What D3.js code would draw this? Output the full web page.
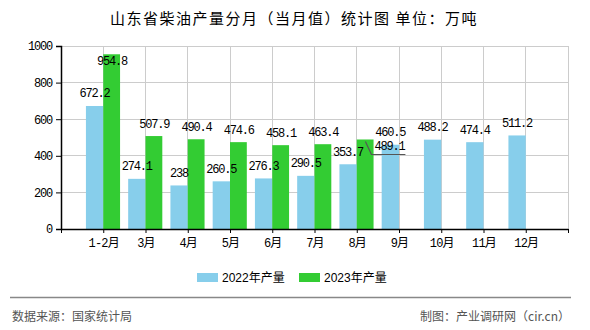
<!DOCTYPE html>
<html>
<head>
<meta charset="utf-8">
<script src="https://cdn.jsdelivr.net/npm/d3@7"></script>
<style>
html,body{margin:0;padding:0;background:#fff;}
svg{display:block;}
</style>
</head>
<body>
<svg id="chart" width="590" height="330"></svg>
<script>
const categories = ["1-2月","3月","4月","5月","6月","7月","8月","9月","10月","11月","12月"];
const series2022 = [672.2,274.1,238,260.5,276.3,290.5,353.7,460.5,488.2,474.4,511.2];
const series2023 = [954.8,507.9,490.4,474.6,458.1,463.4,489.1];
const seriesNames = ["2022年产量","2023年产量"];
const yTicks = [0,200,400,600,800,1000];
const title = "山东省柴油产量分月（当月值）统计图 单位：万吨";
const sourceText = "数据来源：国家统计局";
const creditText = "制图：产业调研网（cir.cn）";

const colors = ["#87CEEB","#33CC33"];
const numFont = "'Liberation Mono','Noto Sans CJK SC',monospace";
const cjkFont = "'Noto Sans CJK SC','Liberation Sans',sans-serif";

const svg = d3.select("#chart");
const L = 61, R = 568, T = 46, B = 229;
const x = d3.scaleLinear().domain([0, categories.length + 1]).range([L, R]);
const y = d3.scaleLinear().domain([0, 1000]).range([B, T]);
const bw = 0.41;

svg.append("text").attr("x", 294).attr("y", 24).attr("text-anchor", "middle")
  .attr("font-family", cjkFont).attr("font-size", 15).attr("letter-spacing", "1.5px")
  .attr("fill", "#000").text(title);

// grid
const g = svg.append("g");
g.selectAll("line.h").data(yTicks.filter(d => d > 0)).join("line")
  .attr("x1", L).attr("x2", R).attr("y1", d => y(d)).attr("y2", d => y(d))
  .attr("stroke", "#cccccc").attr("stroke-width", 1).attr("shape-rendering", "crispEdges");
const vPos = d3.range(1, categories.length + 2);
g.selectAll("line.v").data(vPos).join("line")
  .attr("x1", d => x(d)).attr("x2", d => x(d)).attr("y1", T).attr("y2", B)
  .attr("stroke", "#cccccc").attr("stroke-width", 1).attr("shape-rendering", "crispEdges");

// bars
const bars = svg.append("g");
bars.selectAll("rect.a").data(series2022).join("rect")
  .attr("x", (d, i) => x(i + 1 - bw)).attr("width", (d, i) => x(i + 1) - x(i + 1 - bw))
  .attr("y", d => y(d)).attr("height", d => y(0) - y(d)).attr("fill", colors[0]);
bars.selectAll("rect.b").data(series2023).join("rect")
  .attr("x", (d, i) => x(i + 1)).attr("width", (d, i) => x(i + 1 + bw * 0.97) - x(i + 1))
  .attr("y", d => y(d)).attr("height", d => y(0) - y(d)).attr("fill", colors[1]);

// axes
const yAxis = d3.axisLeft(y).tickValues(yTicks).tickSize(5).tickPadding(4).tickFormat(d3.format("d"));
const ya = svg.append("g").attr("transform", `translate(${L},0)`).call(yAxis);
ya.select(".domain").attr("stroke", "#000").attr("stroke-width", 1.5);
ya.selectAll(".tick line").attr("stroke", "#000");
ya.selectAll("text").attr("font-family", numFont).attr("font-size", 12).attr("letter-spacing", "-1.2px").attr("fill", "#000");

const xAxis = d3.axisBottom(x).tickValues(d3.range(0, categories.length + 2)).tickSize(4).tickSizeOuter(0)
  .tickFormat(d => (d >= 1 && d <= categories.length) ? categories[d - 1] : "");
const xa = svg.append("g").attr("transform", `translate(0,${B})`).call(xAxis);
xa.select(".domain").attr("stroke", "#000").attr("stroke-width", 1.5);
xa.selectAll(".tick line").attr("stroke", "#000");
xa.selectAll("text").attr("font-family", numFont).attr("font-size", 12).attr("letter-spacing", "-0.8px")
  .attr("fill", "#000").attr("dy", "0.9em");

// value labels
const lab = svg.append("g").attr("font-family", numFont).attr("font-size", 12)
  .attr("letter-spacing", "-1.2px").attr("fill", "#000").attr("text-anchor", "middle");
function labelY(v) {
  const yy = y(v) - 8.5;
  return yy < T + 8 ? y(v) + 11 : yy;
}
lab.selectAll("text.a").data(series2022).join("text")
  .attr("x", (d, i) => x(i + 1 - bw / 2)).attr("y", d => labelY(d)).text(d => d);
lab.selectAll("text.b").data(series2023).join("text")
  .attr("x", (d, i) => {
    const last = i === series2023.length - 1 && i < series2022.length - 1;
    return last ? x(i + 1 + bw / 2) + 24 : x(i + 1 + bw / 2);
  })
  .attr("y", (d, i) => {
    const last = i === series2023.length - 1 && i < series2022.length - 1;
    return last ? y(d) + 11 : labelY(d);
  })
  .text(d => d);
// leader line for displaced label
{
  const i = series2023.length - 1;
  const bx = x(i + 1 + bw / 2), by = y(series2023[i]);
  svg.append("polyline")
    .attr("points", `${bx},${by + 2} ${bx + 6},${by + 15} ${bx + 40},${by + 15}`)
    .attr("fill", "none").attr("stroke", "#555").attr("stroke-width", 1.2);
}

// legend
const lg = svg.append("g");
const legX = [197, 299];
seriesNames.forEach((n, i) => {
  lg.append("rect").attr("x", legX[i]).attr("y", 273).attr("width", 21).attr("height", 9).attr("fill", colors[i]);
  lg.append("text").attr("x", legX[i] + 25).attr("y", 282).attr("font-family", "'Liberation Sans','Noto Sans CJK SC',sans-serif")
    .attr("font-size", 12).attr("fill", "#000").text(n);
});

// footer
svg.append("line").attr("x1", 10).attr("x2", 571).attr("y1", 297.5).attr("y2", 297.5)
  .attr("stroke", "#888").attr("stroke-width", 1.5);
svg.append("text").attr("x", 12).attr("y", 321).attr("font-family", cjkFont).attr("font-size", 12)
  .attr("fill", "#555").text(sourceText);
svg.append("text").attr("x", 570).attr("y", 321).attr("text-anchor", "end").attr("font-family", cjkFont)
  .attr("font-size", 12).attr("fill", "#555").text(creditText);
</script>
</body>
</html>
